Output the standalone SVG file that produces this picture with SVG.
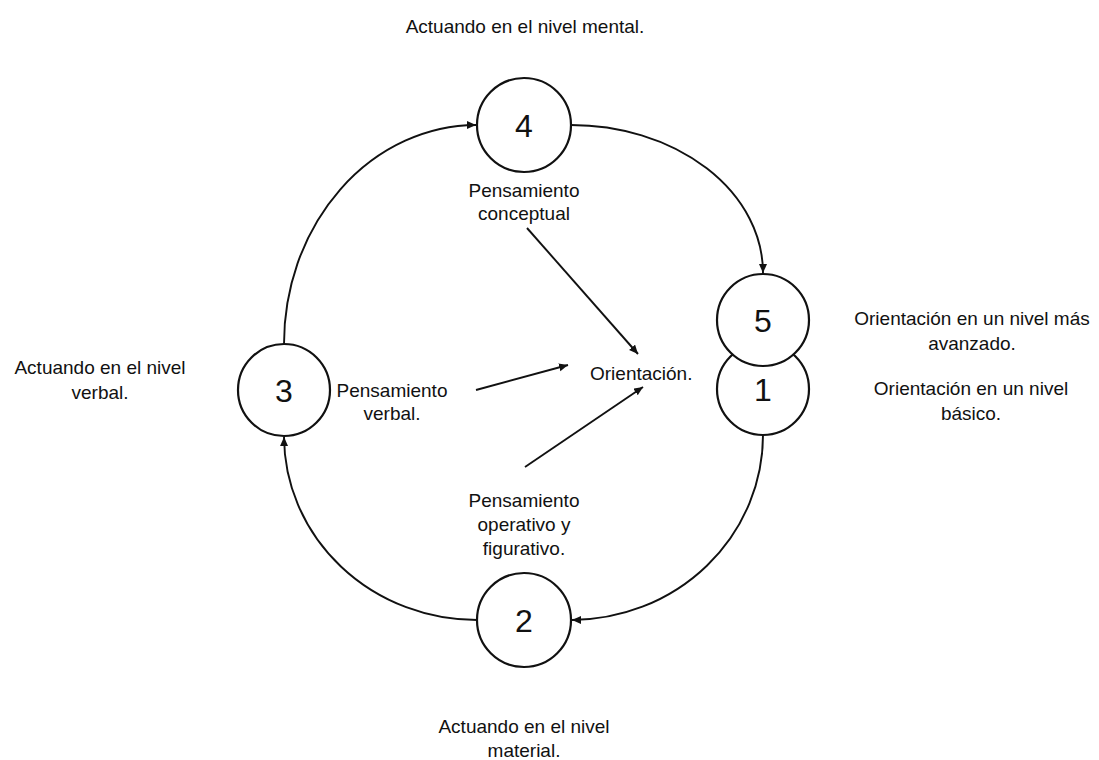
<svg xmlns="http://www.w3.org/2000/svg" width="1099" height="760" viewBox="0 0 1099 760">
<style>
.n{fill:#fff;stroke:#111;stroke-width:2.2}
.num{font-family:"Liberation Sans",Arial,sans-serif;font-size:32px;fill:#111;text-anchor:middle}
.t{font-family:"Liberation Sans",Arial,sans-serif;font-size:19px;fill:#111;text-anchor:middle}
.c{fill:none;stroke:#111;stroke-width:1.9;marker-end:url(#ah)}
</style>
<defs>
<marker id="ah" markerUnits="userSpaceOnUse" markerWidth="11" markerHeight="9" refX="9" refY="4" orient="auto">
<path d="M0,0 L9,4 L0,8 z" fill="#111"/>
</marker>
</defs>
<rect width="1099" height="760" fill="#fff"/>
<g id="connectors">
<path class="c" d="M571,125 A192,148 0 0 1 763,273"/>
<path class="c" d="M763,435 A192,185 0 0 1 572,620"/>
<path class="c" d="M477,620 A193,184 0 0 1 284,437"/>
<path class="c" d="M284,344 A193,219 0 0 1 476,125"/>
<path class="c" d="M527,228 L638,354"/>
<path class="c" d="M476,390 L568,365"/>
<path class="c" d="M525,467 L643,387"/>
</g>
<g id="node4"><circle class="n" cx="524" cy="125" r="47"/><text class="num" x="524" y="137">4</text></g>
<g id="node1"><circle class="n" cx="763" cy="389" r="46"/><text class="num" x="763" y="401">1</text></g>
<g id="node5"><circle class="n" cx="763" cy="320" r="46"/><text class="num" x="763" y="332">5</text></g>
<g id="node3"><circle class="n" cx="284" cy="390" r="46"/><text class="num" x="284" y="402">3</text></g>
<g id="node2"><circle class="n" cx="524" cy="620" r="47"/><text class="num" x="524" y="632">2</text></g>
<g id="labels">
<text class="t" x="525" y="33">Actuando en el nivel mental.</text>
<text class="t" x="524" y="197">Pensamiento</text>
<text class="t" x="524" y="220">conceptual</text>
<text class="t" x="590" y="380" style="text-anchor:start">Orientación.</text>
<text class="t" x="972" y="325">Orientación en un nivel más</text>
<text class="t" x="972" y="350">avanzado.</text>
<text class="t" x="971" y="395">Orientación en un nivel</text>
<text class="t" x="971" y="420">básico.</text>
<text class="t" x="100" y="374">Actuando en el nivel</text>
<text class="t" x="100" y="399">verbal.</text>
<text class="t" x="392" y="397">Pensamiento</text>
<text class="t" x="392" y="420">verbal.</text>
<text class="t" x="524" y="507">Pensamiento</text>
<text class="t" x="524" y="531">operativo y</text>
<text class="t" x="524" y="555">figurativo.</text>
<text class="t" x="524" y="733">Actuando en el nivel</text>
<text class="t" x="524" y="757">material.</text>
</g>
</svg>
